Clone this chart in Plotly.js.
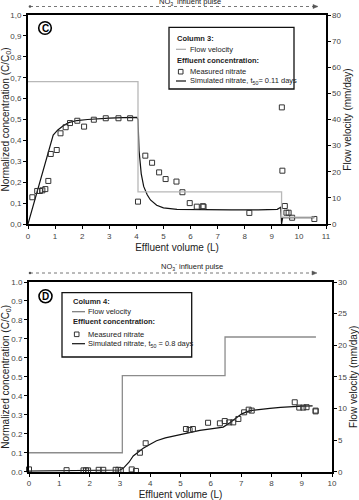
<!DOCTYPE html>
<html>
<head>
<meta charset="utf-8">
<script src="https://cdn.plot.ly/plotly-3.0.1.min.js"></script>
<style>
  html, body { margin: 0; padding: 0; background: #fff; }
  #chart { width: 359px; height: 500px; }
</style>
</head>
<body>
<div id="chart"></div>
<script>
// ---- Column 3 (panel C) ----
const volC_meas  = [0.16, 0.34, 0.44, 0.53, 0.64, 0.75, 0.84, 1.06, 1.20, 1.39, 1.55, 1.82, 2.07, 2.43, 2.87, 3.34, 3.77,
                    4.06, 4.33, 4.58, 4.84, 5.08, 5.48, 5.70, 5.97, 6.23, 6.45, 6.48, 8.17, 9.37, 9.39, 9.48, 9.54, 9.62, 9.75, 10.57];
const concC_meas = [0.128, 0.158, 0.158, 0.161, 0.167, 0.206, 0.335, 0.354, 0.434, 0.463, 0.483, 0.494, 0.466, 0.499, 0.506, 0.506, 0.506,
                    0.107, 0.327, 0.293, 0.247, 0.215, 0.203, 0.152, 0.100, 0.083, 0.085, 0.083, 0.053, 0.558, 0.255, 0.086, 0.054, 0.054, 0.030, 0.024];
const volC_sim   = [0, 0.2, 0.4, 0.6, 0.8, 0.93, 1.1, 1.3, 1.5, 1.8, 2.2, 2.6, 3.0, 3.5, 4.02, 4.06, 4.1, 4.18, 4.27, 4.4, 4.52, 4.75,
                    5.0, 5.5, 6.5, 7.5, 8.5, 9.2, 9.33, 9.36, 9.4, 10.57];
const concC_sim  = [0, 0.09, 0.18, 0.27, 0.36, 0.426, 0.45, 0.47, 0.485, 0.495, 0.5, 0.504, 0.507, 0.509, 0.51, 0.5, 0.35, 0.24, 0.18, 0.14, 0.115, 0.09,
                    0.077, 0.07, 0.068, 0.068, 0.068, 0.07, 0.08, 0.0, 0.03, 0.03];
const volC_flow  = [0, 4.06, 9.36, 10.57];
const velC_flow  = [54.5, 12.3, 2.6, 2.6];

// ---- Column 4 (panel D) ----
const volD_meas  = [0, 1.24, 1.80, 1.88, 1.95, 2.30, 2.45, 2.86, 2.95, 3.03, 3.39, 3.53, 3.66, 3.85, 5.18, 5.30, 5.41, 5.91, 6.30,
                    6.46, 6.61, 6.74, 6.91, 7.10, 7.25, 7.35, 8.77, 8.92, 9.05, 9.16, 9.46, 9.46];
const concD_meas = [0.012, 0.008, 0.007, 0.007, 0.007, 0.010, 0.010, 0.010, 0.010, 0.008, 0.012, 0.004, 0.100, 0.150, 0.225, 0.220, 0.225, 0.258, 0.255,
                    0.267, 0.260, 0.260, 0.278, 0.313, 0.327, 0.322, 0.366, 0.338, 0.338, 0.340, 0.322, 0.318];
const volD_sim   = [0, 0.5, 1, 1.5, 2, 2.5, 3.0, 3.11, 3.3, 3.44, 3.6, 3.77, 4.0, 4.21, 4.5, 4.93, 5.3, 5.64, 6.0, 6.41, 6.63, 6.8,
                    7.02, 7.29, 7.6, 7.95, 8.3, 8.72, 9.0, 9.36];
const concD_sim  = [0.003, 0.004, 0.005, 0.006, 0.007, 0.008, 0.009, 0.018, 0.05, 0.083, 0.105, 0.124, 0.145, 0.163, 0.178, 0.193, 0.205, 0.218, 0.226, 0.235, 0.258, 0.28,
                    0.305, 0.322, 0.329, 0.334, 0.339, 0.344, 0.346, 0.347];
const volD_flow  = [0, 3.08, 6.47, 9.47];
const velD_flow  = [3.0, 15.2, 21.3, 21.3];

// ---- tick labels ----
const concTickVals  = [0, 0.1, 0.2, 0.3, 0.4, 0.5, 0.6, 0.7, 0.8, 0.9, 1.0];
const concTicksComma = ['0,0', '0,1', '0,2', '0,3', '0,4', '0,5', '0,6', '0,7', '0,8', '0,9', '1,0'];
const concTicksDot   = ['0.0', '0.1', '0.2', '0.3', '0.4', '0.5', '0.6', '0.7', '0.8', '0.9', '1.0'];

// ---- page geometry helpers (pixel -> paper fraction) ----
const W = 359, H = 500;
const px = x => x / W;
const py = y => 1 - y / H;

const FONT = 'Liberation Sans, Arial, sans-serif';
const tickFont = { family: FONT, size: 8, color: '#444' };
const titleFont = { family: FONT, size: 10, color: '#222' };

const sqMarker = { symbol: 'square-open', size: 5, color: '#333', line: { width: 1, color: '#333' } };

const traces = [
  { x: volC_flow, y: velC_flow, xaxis: 'x', yaxis: 'y2', mode: 'lines', line: { shape: 'hv', color: '#b8b8b8', width: 1.3 }, showlegend: false },
  { x: volC_sim, y: concC_sim, xaxis: 'x', yaxis: 'y', mode: 'lines', line: { color: '#111', width: 1.2 }, showlegend: false },
  { x: volC_meas, y: concC_meas, xaxis: 'x', yaxis: 'y', mode: 'markers', marker: sqMarker, cliponaxis: false, showlegend: false },

  { x: volD_flow, y: velD_flow, xaxis: 'x2', yaxis: 'y4', mode: 'lines', line: { shape: 'hv', color: '#8c8c8c', width: 1.3 }, showlegend: false },
  { x: volD_sim, y: concD_sim, xaxis: 'x2', yaxis: 'y3', mode: 'lines', line: { color: '#111', width: 1.2 }, showlegend: false },
  { x: volD_meas, y: concD_meas, xaxis: 'x2', yaxis: 'y3', mode: 'markers', marker: sqMarker, cliponaxis: false, showlegend: false }
];

const xCommon = {
  showline: true, mirror: true, linecolor: '#000', linewidth: 2,
  ticks: 'outside', ticklen: 3, tickwidth: 1, tickcolor: '#000',
  showgrid: false, zeroline: false, tickfont: tickFont, dtick: 1
};
const yLeft = {
  showline: true, linecolor: '#000', linewidth: 2,
  ticks: 'outside', ticklen: 3, tickwidth: 1, tickcolor: '#000',
  showgrid: false, zeroline: false, tickfont: tickFont, range: [0, 1],
  tickvals: concTickVals
};
const yRight = {
  showline: true, linecolor: '#000', linewidth: 1.5, side: 'right',
  ticks: 'outside', ticklen: 3, tickwidth: 1, tickcolor: '#000',
  showgrid: false, zeroline: false, tickfont: tickFont
};

const leftTitle = { text: 'Normalized concentration (C/C<sub>0</sub>)', font: titleFont, standoff: 2 };
const rightTitle = { text: 'Flow velocity (mm/day)', font: titleFont, standoff: 3 };
const xTitle = { text: 'Effluent volume (L)', font: titleFont, standoff: 4 };

// header arrow "NO3- influent pulse"
function pulseShapes(y, x0, x1) {
  return [
    { type: 'line', xref: 'paper', yref: 'paper', x0: px(x0), x1: px(x1 - 3), y0: py(y), y1: py(y),
      line: { color: '#777', width: 1, dash: 'dot' } },
    { type: 'path', xref: 'paper', yref: 'paper',
      path: `M ${px(x1 - 5)} ${py(y - 2)} L ${px(x1)} ${py(y)} L ${px(x1 - 5)} ${py(y + 2)} Z`,
      fillcolor: '#555', line: { color: '#555', width: 0.5 } },
    { type: 'circle', xref: 'paper', yref: 'paper', x0: px(x0 - 1.3), x1: px(x0 + 1.3), y0: py(y + 1.3), y1: py(y - 1.3),
      fillcolor: '#555', line: { color: '#555', width: 0 } }
  ];
}
function circleShape(cx, cy, r) {
  return { type: 'circle', xref: 'paper', yref: 'paper', x0: px(cx - r), x1: px(cx + r), y0: py(cy + r), y1: py(cy - r),
           line: { color: '#000', width: 1.6 } };
}
function boxShape(x0, y0, x1, y1) {
  return { type: 'rect', xref: 'paper', yref: 'paper', x0: px(x0), x1: px(x1), y0: py(y1), y1: py(y0),
           line: { color: '#111', width: 1.3 }, fillcolor: 'rgba(255,255,255,0)' };
}
function keyLine(x0, x1, y, color, w) {
  return { type: 'line', xref: 'paper', yref: 'paper', x0: px(x0), x1: px(x1), y0: py(y), y1: py(y), line: { color: color, width: w } };
}
function keySquare(cx, cy) {
  return { type: 'rect', xref: 'paper', yref: 'paper', x0: px(cx - 2.3), x1: px(cx + 2.3), y0: py(cy + 2.3), y1: py(cy - 2.3),
           line: { color: '#333', width: 1 } };
}
function label(text, x, y, size, opts) {
  return Object.assign({ text: text, xref: 'paper', yref: 'paper', x: px(x), y: py(y), xanchor: 'left', yanchor: 'middle',
    showarrow: false, borderpad: 0, font: { family: FONT, size: size, color: '#222' } }, opts || {});
}

const shapes = [].concat(
  pulseShapes(6.5, 30, 318),
  pulseShapes(273, 30, 317),
  [circleShape(45, 28, 6.3), circleShape(45.5, 296.3, 6.5)],
  [boxShape(169, 27.3, 294, 89), boxShape(62, 292.7, 191.7, 357)],
  [keyLine(176, 186, 49.3, '#aaa', 1.2), keySquare(180.7, 71.7), keyLine(176, 186, 81, '#111', 1.2)],
  [keyLine(72, 85, 311.7, '#777', 1.2), keySquare(76.7, 334.3), keyLine(72, 85, 343.7, '#111', 1.2)]
);

const annotations = [
  label('NO<sub>3</sub><sup>-</sup> influent pulse', 190, 1.5, 7.5, { xanchor: 'center' }),
  label('NO<sub>3</sub><sup>-</sup> influent pulse', 192, 266.5, 7.5, { xanchor: 'center' }),
  label('<b>C</b>', 45, 28.3, 10, { xanchor: 'center', font: { family: FONT, size: 10, color: '#000' } }),
  label('<b>D</b>', 45.5, 296.6, 10, { xanchor: 'center', font: { family: FONT, size: 10, color: '#000' } }),

  label('<b>Column 3:</b>', 175.5, 38.3, 7.5),
  label('Flow velocity', 189, 49.3, 7.5),
  label('<b>Effluent concentration:</b>', 175.5, 60, 7.5),
  label('Measured nitrate', 189, 71, 7.5),
  label('Simulated nitrate, t<sub>50</sub>= 0.11 days', 189, 81, 7.5),

  label('<b>Column 4:</b>', 71.5, 301.7, 7.5),
  label('Flow velocity', 87, 311.7, 7.5),
  label('<b>Effluent concentration:</b>', 71.5, 321.7, 7.5),
  label('Measured nitrate', 87, 334, 7.5),
  label('Simulated nitrate, t<sub>50</sub> = 0.8 days', 87, 343.7, 7.5)
];

const layout = {
  width: W, height: H,
  margin: { l: 0, r: 0, t: 0, b: 0 },
  paper_bgcolor: '#fff', plot_bgcolor: '#fff',
  showlegend: false,
  font: { family: FONT },

  xaxis: Object.assign({}, xCommon, { domain: [px(28), px(326)], range: [0, 11], anchor: 'y', title: xTitle }),
  yaxis: Object.assign({}, yLeft, { domain: [py(224), py(15)], anchor: 'x', ticktext: concTicksComma, title: leftTitle }),
  yaxis2: Object.assign({}, yRight, { overlaying: 'y', anchor: 'x', range: [0, 80], dtick: 10, title: rightTitle }),

  xaxis2: Object.assign({}, xCommon, { domain: [px(29), px(332)], range: [0, 10], anchor: 'y3', title: xTitle }),
  yaxis3: Object.assign({}, yLeft, { domain: [py(471.7), py(282)], anchor: 'x2', ticktext: concTicksDot, title: leftTitle }),
  yaxis4: Object.assign({}, yRight, { overlaying: 'y3', anchor: 'x2', range: [0, 30], dtick: 5, title: rightTitle }),

  shapes: shapes,
  annotations: annotations
};

Plotly.newPlot('chart', traces, layout, { staticPlot: true, displayModeBar: false });
</script>
</body>
</html>
